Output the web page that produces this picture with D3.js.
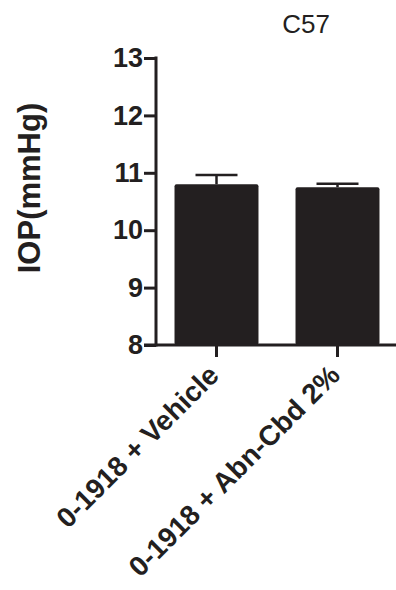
<!DOCTYPE html>
<html lang="en">
<head>
  <meta charset="UTF-8">
  <title>C57 IOP</title>
  <script src="https://cdn.jsdelivr.net/npm/d3@7"></script>
  <style>
    html, body { margin: 0; padding: 0; background: #fff; }
    svg { display: block; font-family: Arial, "Liberation Sans", sans-serif; }
  </style>
</head>
<body>
  <div id="chart"></div>
  <script>
    const categories = ['0-1918 + Vehicle', '0-1918 + Abn-Cbd 2%'];
    const means = [10.8, 10.75];
    const sem = [0.16, 0.06];
    const yTicks = [8, 9, 10, 11, 12, 13];

    const W = 396, H = 590;
    const ink = '#231f20';

    const svg = d3.select('#chart').append('svg')
      .attr('width', W)
      .attr('height', H);

    const x = d3.scaleBand()
      .domain(categories)
      .range([156, 398])
      .paddingInner(0.306)
      .paddingOuter(0.153);

    const y = d3.scaleLinear()
      .domain([8, 13])
      .range([345, 58]);

    // bars
    svg.selectAll('rect.bar')
      .data(categories)
      .enter()
      .append('rect')
      .attr('class', 'bar')
      .attr('x', d => x(d))
      .attr('y', (d, i) => y(means[i]))
      .attr('width', x.bandwidth())
      .attr('height', (d, i) => y(8) - y(means[i]))
      .attr('rx', 2)
      .attr('fill', ink);

    // error bars (upper only)
    const err = svg.append('g')
      .attr('stroke', ink)
      .attr('stroke-width', 2.5);
    categories.forEach((c, i) => {
      const cx = x(c) + x.bandwidth() / 2;
      const top = y(means[i] + sem[i]);
      err.append('line')
        .attr('x1', cx).attr('x2', cx)
        .attr('y1', y(means[i])).attr('y2', top);
      err.append('line')
        .attr('x1', cx - x.bandwidth() / 4).attr('x2', cx + x.bandwidth() / 4)
        .attr('y1', top).attr('y2', top);
    });

    // y axis
    const yAxis = svg.append('g')
      .attr('transform', 'translate(156,0)')
      .call(d3.axisLeft(y).tickValues(yTicks).tickFormat(d3.format('d'))
        .tickSize(12).tickPadding(1).tickSizeOuter(0));
    yAxis.select('.domain').attr('stroke', ink).attr('stroke-width', 3)
      .attr('d', `M0,${y(13) - 1.5}V${y(8) + 1.5}`);
    yAxis.selectAll('.tick line').attr('stroke', ink).attr('stroke-width', 3);
    yAxis.selectAll('.tick text')
      .attr('fill', ink)
      .style('font-size', '27px')
      .style('font-weight', 'bold');

    // x axis
    const xAxis = svg.append('g')
      .attr('transform', `translate(0,${y(8)})`)
      .call(d3.axisBottom(x).tickSize(12).tickSizeOuter(0).tickFormat(''));
    xAxis.select('.domain').attr('stroke', ink).attr('stroke-width', 3)
      .attr('d', 'M144,0H396');
    xAxis.selectAll('.tick line').attr('stroke', ink).attr('stroke-width', 3);

    // rotated category labels
    svg.append('g').selectAll('text')
      .data(categories)
      .enter()
      .append('text')
      .attr('transform', d => `translate(${x(d) + x.bandwidth() / 2 + 4},${y(8) + 32}) rotate(-45)`)
      .attr('text-anchor', 'end')
      .attr('fill', ink)
      .style('font-size', '28px')
      .style('font-weight', 'bold')
      .text(d => d);

    // y title
    svg.append('text')
      .attr('transform', 'translate(40,188) rotate(-90)')
      .attr('text-anchor', 'middle')
      .attr('fill', ink)
      .style('font-size', '31px')
      .style('font-weight', 'bold')
      .text('IOP(mmHg)');

    // title
    svg.append('text')
      .attr('x', 306)
      .attr('y', 33)
      .attr('text-anchor', 'middle')
      .attr('fill', ink)
      .style('font-size', '26px')
      .text('C57');
  </script>
</body>
</html>
